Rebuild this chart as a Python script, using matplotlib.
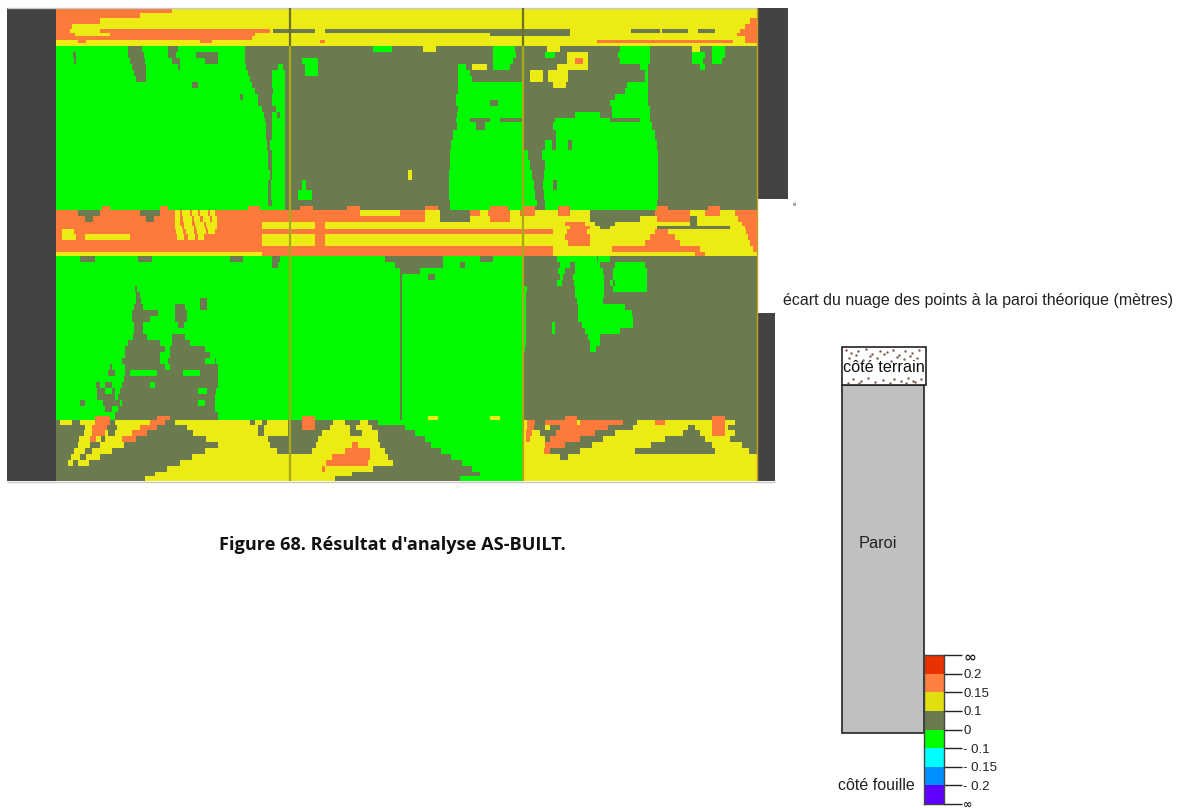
import numpy as np
import matplotlib
matplotlib.use("Agg")
import matplotlib.pyplot as plt
from matplotlib.colors import ListedColormap, to_rgb
from matplotlib.patches import Rectangle

# deviation classes on the wall
map_classes = "GKYO"
map_colors = ["#00fb00", "#6c7a50", "#ecec14", "#fd7a3a"]

# each row: lower y of the band, then runs "class + x where the run stops"
map_rows = [
    (13, "O172 Y757"),
    (18, "O140 Y757"),
    (24, "O100 Y750 O757"),
    (29, "O72 Y745 O757"),
    (33, "O70 Y100 O270 Y273 K315 Y325 K570 Y631 K660 Y662 K688 Y698 K715 Y740 O757"),
    (36, "O75 Y110 O255 Y490 K570 Y737 O757"),
    (40, "O252 Y745 O757"),
    (43, "Y78 O86 Y200 O212 Y320 O325 Y597 O733 Y745 O757"),
    (46, "Y757"),
    (52, "G128 K142 G168 K178 G245 K373 G392 K423 Y436 K493 G515 K547 Y560 K620 G650 K692 Y700 K712 G725 K757"),
    (58, "G73 K76 G128 K144 G168 K176 G196 K218 G245 K493 G516 K545 G555 K567 Y588 K618 G650 K692 G705 K712 G725 K757"),
    (64, "G74 K76 G130 K145 G172 K180 G205 K218 G245 K302 G318 K493 G513 K567 Y575 O583 Y588 K620 G650 K692 G703 K712 G722 K757"),
    (70, "G132 K146 G178 K180 G246 K278 G283 K305 G318 K458 G466 K472 Y487 K493 G510 K557 Y588 K640 G648 K700 G705 K757"),
    (76, "G134 K146 G248 K272 G285 K305 G318 K458 G470 K530 Y543 K548 Y568 K645 G648 K757"),
    (82, "G136 K146 G250 K272 G285 K458 G472 K530 Y543 K548 Y568 K645 G648 K757"),
    (88, "G192 K198 G252 K272 G285 K458 G522 K553 Y566 K627 G648 K757"),
    (94, "G255 K273 G285 K458 G522 K625 G648 K757"),
    (100, "G240 K243 G258 K272 G285 K456 G522 K615 G648 K757"),
    (106, "G258 K272 G285 K456 G490 K498 G522 K610 G648 K757"),
    (112, "G262 K276 G285 K458 G522 K612 G650 K757"),
    (118, "G264 K272 G277 K280 G285 K457 G522 K575 G600 K612 G650 K757"),
    (122, "G265 K272 G285 K456 G470 K490 G500 K555 G610 K640 G650 K757"),
    (130, "G266 K272 G285 K457 G476 K485 G522 K553 G652 K757"),
    (140, "G266 K272 G285 K453 G522 K556 G655 K757"),
    (150, "G267 K270 G285 K451 G522 K545 G552 K556 G568 K572 G657 K757"),
    (160, "G268 K272 G285 K450 G528 K542 G658 K757"),
    (170, "G268 K272 G285 K450 G530 K545 G658 K757"),
    (180, "G270 K272 G285 K408 Y412 K449 G532 K544 G658 K757"),
    (190, "G268 K271 G285 K302 G306 K449 G534 K543 G553 K557 G658 K757"),
    (200, "G268 K271 G285 K298 G312 K449 G535 K544 G658 K757"),
    (206, "G268 K272 G285 K450 G537 K545 G657 K757"),
    (210, "G102 O110 G160 O168 G248 O260 G285 K300 O313 K347 O360 K425 O438 K450 G490 O508 G523 O535 K545 G558 O570 G657 O668 K708 O720 K757"),
    (216, "O78 K100 O140 K160 O175 Y180 O182 Y190 O192 Y198 O200 Y208 O210 Y215 O360 Y400 O425 Y440 K470 O480 Y488 O510 Y520 O535 Y558 O570 Y590 K655 O690 Y705 O720 Y735 O757"),
    (222, "O85 K93 O146 K154 O175 Y180 O183 Y192 O194 Y200 O203 Y210 O212 Y217 O425 Y440 K470 Y490 O510 Y590 K640 Y657 O690 K697 Y738 O757"),
    (226, "O175 Y180 O184 Y192 O195 Y204 O206 Y217 O262 Y315 O325 Y565 O585 Y595 K615 Y690 K697 Y742 O757"),
    (229, "O175 Y182 O184 Y194 O196 Y205 O207 Y217 O262 Y315 O325 Y570 O590 Y600 K610 Y657 K730 Y745 O757"),
    (234, "O62 Y74 O176 Y183 O186 Y194 O197 Y206 O208 Y215 O553 Y567 O587 Y655 O668 Y746 O757"),
    (240, "O62 Y76 O85 Y130 O177 Y184 O188 Y195 O198 Y204 O262 Y315 O325 Y565 O590 Y650 O675 Y748 O757"),
    (246, "O262 Y315 O325 Y568 O590 Y645 O680 Y750 O757"),
    (252, "O553 Y612 O700 Y753 O757"),
    (256, "Y262 O553 Y695 O705 Y757"),
    (262, "G80 K95 G138 K152 G230 K243 G272 K280 G385 K443 G480 K493 G523 K557 G597 K598 G610 K757"),
    (268, "G272 K278 G395 K443 G460 K465 G523 K560 G570 K575 G600 K615 G645 K757"),
    (274, "G400 K420 G443 G523 K558 G565 K575 G603 K613 G647 K757"),
    (280, "G400 K402 G428 K435 G523 K560 G563 K573 G604 K613 G647 K757"),
    (286, "G400 K402 G523 K557 G562 K574 G604 K610 G613 K615 G647 K757"),
    (292, "G135 K137 G400 K402 G527 K575 G604 K613 G647 K757"),
    (298, "G136 K140 G400 K402 G526 K575 G604 K757"),
    (304, "G136 K141 G200 K207 G400 K402 G526 K577 G603 K757"),
    (310, "G134 K143 G175 K185 G200 K207 G400 K402 G526 K578 G625 K757"),
    (316, "G132 K158 G175 K187 G400 K402 G526 K578 G632 K757"),
    (322, "G132 K150 G175 K187 G400 K402 G526 K578 G633 K757"),
    (328, "G134 K143 G178 K184 G400 K402 G526 K552 G555 K582 G633 K757"),
    (334, "G134 K143 G400 K402 G526 K552 G555 K585 G620 K757"),
    (340, "G133 K147 G172 K185 G400 K402 G526 K588 G600 K757"),
    (346, "G128 K160 G172 K190 G400 K402 G526 K590 G600 K757"),
    (352, "G125 K165 G170 K205 G400 K402 G525 K590 G596 K757"),
    (358, "G125 K160 G170 K210 G400 K402 G523 K757"),
    (364, "G122 K160 G168 K205 G215 K216 G400 K402 G523 K757"),
    (370, "G110 K112 G125 K165 G170 K218 G400 K402 G523 K757"),
    (376, "G108 K115 G125 K130 G157 K183 G200 K218 G400 K402 G523 K757"),
    (382, "G124 K218 G400 K402 G523 K757"),
    (388, "G96 K100 G105 K112 G122 K150 G155 K218 G400 K402 G523 K757"),
    (394, "G97 K105 G112 K115 G120 K198 G207 K216 G400 K402 G523 K757"),
    (400, "G97 K115 G118 K215 G400 K402 G523 K757"),
    (406, "G80 K85 G103 K120 G122 K198 G205 K215 G400 K402 G523 K757"),
    (412, "G105 K112 G118 K215 G400 K402 G523 K757"),
    (416, "G115 K218 G400 K402 G523 K757"),
    (420, "G95 O110 G115 K157 O170 K218 G302 O315 G400 K402 G428 Y438 G490 Y500 G523 K565 O577 K712 O725 K757"),
    (425, "K60 Y72 K80 Y95 O110 K115 Y150 O165 K175 Y250 K255 Y262 K267 Y288 K302 O315 K333 Y345 K360 Y368 K378 G523 Y527 O535 K545 O577 Y580 O623 K637 Y655 O665 Y712 O725 Y735 K757"),
    (430, "K85 Y92 O107 K117 Y140 O157 K187 Y258 K264 Y288 K302 O315 K330 Y350 K356 Y372 K400 K405 G523 Y527 O534 K545 Y550 K560 O608 K633 Y688 K695 Y712 O725 Y728 K757"),
    (436, "K84 Y92 O105 Y108 K115 Y132 O147 K193 Y258 K264 Y288 K322 Y350 K362 Y378 K415 G523 Y526 O532 Y540 K556 O595 K615 Y683 K700 Y712 O725 Y735 K757"),
    (442, "K79 Y90 O96 Y101 K105 Y122 O136 K206 Y268 K318 Y378 K425 G523 Y526 O530 Y545 K550 O580 K603 Y665 K705 Y730 K757"),
    (448, "K78 Y90 K100 Y124 K218 Y270 K316 Y352 O358 Y380 K431 G523 Y528 Y545 O565 K592 Y651 K712 Y742 K757"),
    (454, "K74 Y85 K92 Y112 K205 Y277 K312 Y345 O370 Y385 K441 G523 Y544 O550 K580 Y635 K715 Y749 K757"),
    (460, "K71 Y80 K86 Y100 K192 Y332 O370 Y388 K451 G523 Y560 K568 Y757"),
    (466, "K68 Y73 K78 Y89 K180 Y326 O368 Y393 K462 G523 Y757"),
    (472, "K167 Y322 O325 Y373 K472 G523 Y757"),
    (476, "K155 Y352 K480 G523 Y757"),
    (481, "K145 Y335 K460 G523 Y757"),
]

legend_colors = ["#e83200", "#ff7f40", "#e0e010", "#6c7a50", "#00ff00", "#00ffff", "#0090ff", "#6000ff"]
legend_labels = ["∞", "0.2", "0.15", "0.1", "0", "- 0.1", "- 0.15", "- 0.2", "∞"]

terrain_dot_x = [846, 851, 858, 866, 872, 880, 887, 893, 899, 905, 912, 919, 849, 856, 863, 870, 877, 884, 891,
                 897, 904, 910, 917, 853, 861, 868, 875, 894, 901, 908, 915, 921, 848, 859, 883, 890, 906, 913]
terrain_dot_y = [350, 353, 351, 349, 354, 351, 352, 350, 355, 351, 353, 350, 358, 355, 360, 356, 358, 354, 361,
                 357, 359, 356, 358, 379, 381, 378, 382, 379, 381, 378, 382, 379, 383, 383, 380, 383, 383, 381]


def decode(runs):
    row = np.zeros(701, dtype=int)
    start = 56
    for run in runs.split():
        stop = int(run[1:])
        row[start - 56:stop - 56] = map_classes.index(run[0])
        start = max(start, stop)
    return row


grid = np.array([decode(r[1]) for r in map_rows])
bottoms = np.array([8] + [r[0] for r in map_rows])
grid = np.repeat(grid, np.diff(bottoms), axis=0)
rgb = np.array([to_rgb(c) for c in map_colors])[grid]

fig = plt.figure(figsize=(11.84, 8.08), dpi=100)
ax = fig.add_axes([0, 0, 1, 1])

# scan is slightly soft, so let the image filter blur the class edges a bit
ax.imshow(rgb, extent=(56, 757, 481, 8), aspect="auto", interpolation="gaussian")
ax.set_xlim(0, 1184)
ax.set_ylim(808, 0)
ax.axis("off")

# dark blocks either side of the wall
dark = "#434343"
ax.add_patch(Rectangle((7, 8), 49, 473, color=dark, lw=0))
ax.add_patch(Rectangle((757, 8), 31, 191, color=dark, lw=0))
ax.add_patch(Rectangle((757, 313), 18, 168, color=dark, lw=0))
ax.hlines(7.5, 7, 757, color="#c8c8c8", lw=1)
ax.hlines(481.5, 7, 775, color="#c8c8c8", lw=1)

# panel joints
ax.vlines([290, 523], 8, 46, color="#6c7220", lw=1.6)
ax.vlines([290, 523], 46, 481, color="#a8a818", lw=1.6)
ax.vlines(757, 8, 481, color="#c8a020", lw=1)

ax.text(794, 204, "é", fontsize=4, color="#444444", ha="center", va="center")
ax.text(978.5, 300, "écart du nuage des points à la paroi théorique (mètres)", fontsize=11.55,
        family="Liberation Sans", color="#222222", ha="center", va="center")
ax.text(392, 545, "Figure 68. Résultat d'analyse AS-BUILT.", fontsize=13.1, family="Open Sans", weight="bold",
        color="#111111", ha="center", va="center")

# section of the wall
ax.add_patch(Rectangle((842, 385), 82, 348, fc="#c0c0c0", ec="#222222", lw=1.2))
ax.add_patch(Rectangle((842, 347), 84, 38, fc="white", ec="#222222", lw=1.2))
ax.scatter(terrain_dot_x, terrain_dot_y, s=3, color="#7a5a50", lw=0)
ax.text(884, 367, "côté terrain", fontsize=11.7, family="Liberation Sans", color="#111111", ha="center", va="center")
ax.text(878, 543, "Paroi", fontsize=11.8, family="Liberation Sans", color="#222222", ha="center", va="center")
ax.text(876, 786, "côté fouille", fontsize=11.5, family="Liberation Sans", color="#222222", ha="center", va="center")

# colour scale
cax = fig.add_axes([924 / 1184, 1 - 804 / 808, 20 / 1184, 149 / 808])
cax.pcolormesh(np.arange(2), np.arange(9), np.arange(8).reshape(-1, 1), cmap=ListedColormap(legend_colors))
cax.set_ylim(8, 0)
cax.set_xticks([])
cax.yaxis.tick_right()
cax.set_yticks(np.arange(9))
cax.set_yticklabels(legend_labels, family="Liberation Sans", fontsize=9.5, color="#222222")
cax.tick_params(axis="y", length=13, width=1, pad=1, color="#222222")
for i, size in ((0, 11), (8, 8)):
    cax.get_yticklabels()[i].set_fontsize(size)
    cax.get_yticklabels()[i].set_family("DejaVu Sans")
    cax.get_yticklabels()[i].set_weight("bold")
for side in cax.spines.values():
    side.set_linewidth(1)
    side.set_color("#444444")

fig.savefig("out.png", dpi=100)
